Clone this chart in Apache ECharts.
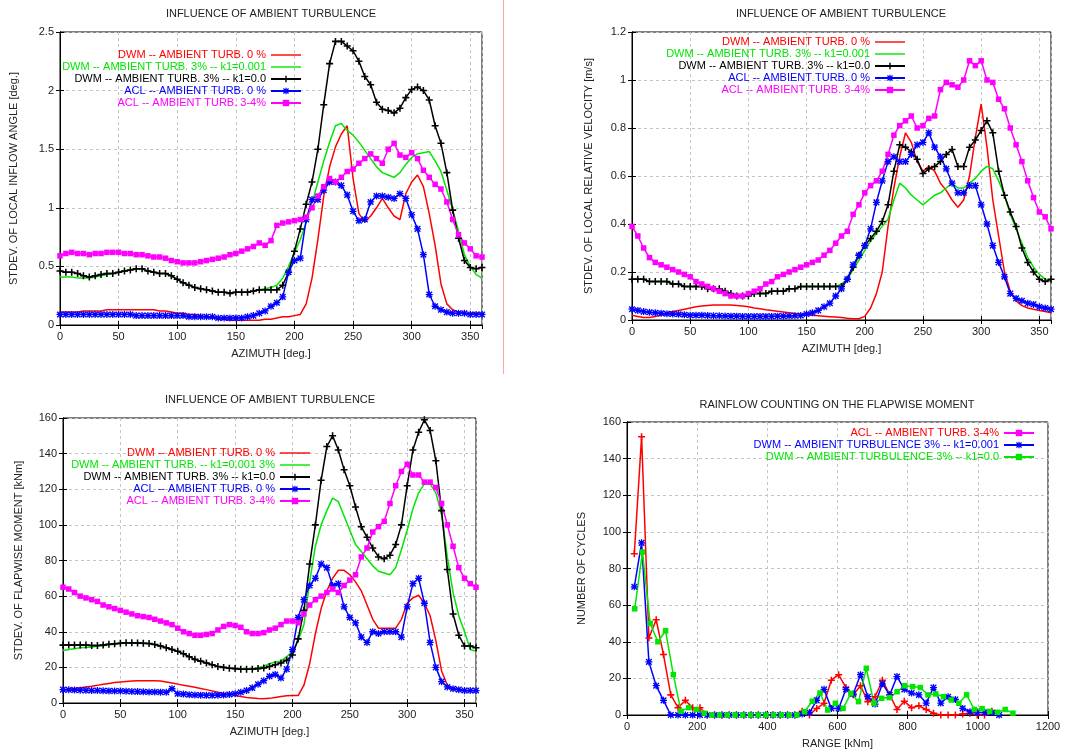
<!DOCTYPE html>
<html>
<head>
<meta charset="utf-8">
<script src="https://cdn.jsdelivr.net/npm/echarts/dist/echarts.min.js"></script>
<style>
html,body{margin:0;padding:0;background:#fff}
#chart{width:1086px;height:753px}
</style>
</head>
<body>
<div id="chart"></div>
<script>
// azimuth stations (deg), shared by the three azimuth plots
var azimuth = [0,5,10,15,20,25,30,35,40,45,50,55,60,65,70,75,80,85,90,95,100,105,110,115,120,125,130,135,140,145,
  150,155,160,165,170,175,180,185,190,195,200,205,210,215,220,225,230,235,240,245,250,255,260,265,270,275,280,285,290,295,
  300,305,310,315,320,325,330,335,340,345,350,355,360];

// stdev of local inflow angle [deg.]
var angDwm0 = [0.11,0.11,0.11,0.11,0.12,0.12,0.12,0.12,0.13,0.13,0.13,0.13,0.13,0.13,0.13,0.13,0.13,0.12,0.12,0.11,
  0.10,0.10,0.09,0.09,0.08,0.07,0.06,0.05,0.05,0.04,0.04,0.04,0.04,0.04,0.04,0.05,0.05,0.06,0.07,0.07,
  0.08,0.09,0.18,0.40,0.73,1.10,1.35,1.52,1.63,1.70,1.25,0.95,0.88,0.93,1.00,1.08,1.00,0.93,0.90,1.12,
  1.22,1.28,1.18,0.95,0.68,0.35,0.18,0.13,0.11,0.10,0.10,0.10,0.09];
var angDwm3k001 = [0.41,0.41,0.41,0.40,0.40,0.40,0.41,0.42,0.43,0.44,0.45,0.46,0.47,0.48,0.48,0.46,0.45,0.44,0.44,0.42,
  0.39,0.36,0.34,0.32,0.31,0.30,0.29,0.28,0.28,0.27,0.28,0.28,0.28,0.29,0.30,0.31,0.32,0.34,0.40,0.50,
  0.62,0.73,0.87,1.04,1.22,1.40,1.56,1.70,1.72,1.66,1.62,1.56,1.49,1.42,1.35,1.30,1.28,1.26,1.30,1.37,
  1.43,1.46,1.47,1.48,1.40,1.31,1.15,0.98,0.80,0.60,0.50,0.43,0.40];
var angDwm3k0 = [0.46,0.45,0.45,0.44,0.42,0.41,0.42,0.43,0.44,0.44,0.45,0.46,0.47,0.48,0.48,0.46,0.45,0.44,0.44,0.42,
  0.39,0.36,0.34,0.32,0.31,0.30,0.29,0.28,0.28,0.27,0.28,0.28,0.28,0.29,0.30,0.30,0.30,0.30,0.34,0.45,
  0.63,0.82,1.03,1.22,1.50,1.88,2.23,2.42,2.42,2.38,2.34,2.25,2.12,2.05,1.90,1.84,1.83,1.81,1.85,1.94,
  2.01,2.03,2.00,1.92,1.70,1.55,1.30,0.98,0.74,0.55,0.49,0.48,0.49];
var angAcl0 = [0.09,0.09,0.09,0.09,0.09,0.09,0.09,0.09,0.09,0.09,0.09,0.09,0.09,0.08,0.08,0.08,0.08,0.08,0.08,0.08,
  0.08,0.08,0.07,0.07,0.07,0.07,0.07,0.06,0.06,0.06,0.06,0.06,0.07,0.08,0.10,0.12,0.16,0.19,0.24,0.45,
  0.55,0.57,0.90,1.07,1.07,1.15,1.22,1.22,1.19,1.11,0.97,0.89,0.90,1.05,1.10,1.10,1.09,1.08,1.12,1.08,
  0.94,0.82,0.60,0.26,0.16,0.13,0.11,0.10,0.10,0.10,0.09,0.09,0.09];
var angAcl34 = [0.59,0.61,0.62,0.61,0.61,0.60,0.61,0.61,0.62,0.62,0.62,0.61,0.61,0.60,0.60,0.59,0.58,0.58,0.57,0.55,
  0.54,0.53,0.53,0.53,0.54,0.55,0.56,0.57,0.58,0.60,0.61,0.63,0.65,0.67,0.70,0.68,0.72,0.85,0.87,0.88,
  0.89,0.90,0.92,1.00,1.10,1.18,1.25,1.22,1.26,1.31,1.33,1.38,1.42,1.46,1.42,1.38,1.50,1.55,1.45,1.43,
  1.47,1.42,1.32,1.26,1.20,1.16,1.05,0.90,0.77,0.70,0.65,0.59,0.58];

// stdev of local relative velocity [m/s]
var velDwm0 = [0.02,0.015,0.01,0.01,0.015,0.02,0.03,0.035,0.04,0.045,0.05,0.055,0.058,0.06,0.062,0.063,0.063,0.062,0.06,0.058,
  0.055,0.05,0.047,0.043,0.04,0.036,0.033,0.03,0.027,0.024,0.022,0.02,0.018,0.016,0.014,0.012,0.01,0.007,0.005,0.005,
  0.015,0.05,0.11,0.20,0.39,0.55,0.68,0.78,0.74,0.66,0.62,0.64,0.62,0.57,0.54,0.50,0.47,0.50,0.60,0.76,
  0.90,0.72,0.50,0.35,0.20,0.12,0.08,0.06,0.05,0.045,0.04,0.035,0.03];
var velDwm3k001 = [0.17,0.17,0.17,0.16,0.16,0.16,0.16,0.15,0.15,0.14,0.14,0.14,0.14,0.13,0.13,0.13,0.12,0.11,0.10,0.10,
  0.10,0.11,0.11,0.11,0.12,0.12,0.12,0.13,0.13,0.14,0.14,0.14,0.14,0.14,0.14,0.14,0.15,0.17,0.21,0.25,
  0.29,0.33,0.36,0.39,0.42,0.50,0.57,0.55,0.52,0.50,0.48,0.50,0.52,0.53,0.55,0.57,0.55,0.55,0.57,0.59,
  0.62,0.64,0.63,0.58,0.52,0.44,0.38,0.32,0.26,0.22,0.19,0.17,0.16];
var velDwm3k0 = [0.17,0.17,0.17,0.16,0.16,0.16,0.16,0.15,0.15,0.14,0.14,0.14,0.14,0.13,0.13,0.13,0.12,0.11,0.10,0.10,
  0.10,0.11,0.11,0.11,0.12,0.12,0.12,0.13,0.13,0.14,0.14,0.14,0.14,0.14,0.14,0.14,0.14,0.17,0.22,0.27,
  0.31,0.34,0.37,0.41,0.48,0.62,0.73,0.72,0.70,0.67,0.61,0.63,0.64,0.66,0.69,0.71,0.64,0.64,0.72,0.75,
  0.79,0.83,0.78,0.62,0.52,0.45,0.39,0.30,0.24,0.20,0.17,0.16,0.17];
var velAcl0 = [0.045,0.04,0.035,0.032,0.03,0.028,0.026,0.025,0.024,0.022,0.02,0.02,0.02,0.019,0.018,0.018,0.017,0.016,0.016,0.015,
  0.015,0.015,0.015,0.015,0.015,0.016,0.016,0.017,0.018,0.019,0.025,0.03,0.04,0.055,0.07,0.10,0.13,0.17,0.23,0.27,
  0.31,0.38,0.49,0.58,0.66,0.68,0.66,0.66,0.69,0.73,0.74,0.78,0.72,0.68,0.63,0.57,0.53,0.53,0.56,0.56,
  0.48,0.40,0.31,0.24,0.18,0.11,0.09,0.08,0.07,0.065,0.055,0.05,0.045];
var velAcl34 = [0.39,0.35,0.30,0.26,0.24,0.23,0.22,0.21,0.20,0.19,0.18,0.16,0.15,0.14,0.13,0.12,0.11,0.10,0.10,0.10,
  0.11,0.12,0.13,0.15,0.16,0.18,0.19,0.20,0.21,0.22,0.23,0.24,0.25,0.27,0.29,0.32,0.35,0.37,0.44,0.48,
  0.53,0.56,0.58,0.62,0.69,0.77,0.81,0.83,0.85,0.80,0.81,0.84,0.85,0.96,0.99,0.98,0.97,1.00,1.08,1.06,
  1.08,1.00,0.99,0.92,0.88,0.80,0.73,0.66,0.58,0.51,0.45,0.43,0.38];

// stdev of flapwise moment [kNm]
var momDwm0 = [7.5,7.8,8.2,8.6,9.0,9.4,9.9,10.5,11.0,11.5,11.8,12.1,12.3,12.5,12.5,12.5,12.5,12.4,11.8,11.2,
  10.6,10.0,9.4,8.8,8.2,7.5,6.8,6.0,5.3,4.7,4.2,3.6,3.1,2.8,2.5,2.4,2.6,3.1,3.6,4.1,
  4.2,4.2,10,22,39,53,63,70,74.5,74.5,72,68,63,55,47,42,42,42,42,47,
  56,59,60.5,56,49,35,18,10,8,7.5,7,7,7];
var momDwm3k001 = [29.5,30,30.5,31,31.2,31.5,31.8,32.2,32.7,33,33.4,33.6,33.6,33.5,33.4,33.2,32.7,32,31,30,
  29,27.6,26,24.5,23.5,22.5,21.5,20.5,20,19.5,19.3,19,19,19.2,19.8,20.6,22,23,23.5,26,
  29,35,44,68,88,100,108,115,113,105,97,89,85,81,77,74,73,72,76,86,
  97,109,118,123,123,118,106,82,62,49,40,30,29];
var momDwm3k0 = [32.5,32.5,32.5,32.5,32.5,32.3,32.3,32.5,33,33.3,33.6,33.8,33.8,33.7,33.6,33.4,32.8,32,31,30,
  29,27.6,26,24.5,23.5,22.5,21.5,20.5,20,19.5,19.3,19,19,19,19.3,19.6,20.5,21.5,22.5,24,
  27,36,52,78,100,125,144,150,142,131,122,110,99,93,87,82,81,83,89,100,
  122,142,152,159,153,136,108,75,50,38,32,32,31];
var momAcl0 = [7.5,7.4,7.3,7.2,7.1,7,7,6.9,6.8,6.7,6.7,6.6,6.5,6.4,6.3,6.2,6.2,6.1,6,8,
  5.2,5,4.7,4.5,4.4,4.3,4.3,4.4,4.5,4.8,5.2,6,7,8.5,10.5,12.5,15,16,14,19,
  30,48,58,66,70,78,76,66,67,54,48,45,37,34,40,39,40,40,40,37,
  54,67,70,56,34,20,12,9,8,7.5,7,7,7];
var momAcl34 = [65,64,62,60,59,58,57,55,54,53,52,51,50,49,48.5,48,47,46,45,44,
  42,40,39,38,38,38.5,39,41,43,44,43.5,42.5,40,39,39,39.5,41,42,44,46,
  46,45,50,55,58,60,62,64,62,66,69,72,82,87,96,99,102,112,122,130,
  134,128,128,124,124,121,112,100,88,76,70,67,65];

// rainflow counting: range bins [kNm] and number of cycles
var rangeA = [20.8,41.6,62.4,83.2,104,124.8,145.6,166.4,187.2,208,228.8,249.6,270.4,291.2,312,332.8,353.6,374.4,395.2,416,
  436.8,457.6,478.4,499.2,520,540.8,561.6,582.4,603.2,624,644.8,665.6,686.4,707.2,728,748.8,769.6,790.4,811.2,832,
  852.8,873.6,894.4,915.2,936,956.8,977.6,998.4,1019.2,1040,1060.8];
var rangeB = [22,44,66,88,110,132,154,176,198,220,242,264,286,308,330,352,374,396,418,440,
  462,484,506,528,550,572,594,616,638,660,682,704,726,748,770,792,814,836,858,880,
  902,924,946,968,990,1012,1034,1056,1078,1100];
var cycAcl34 = [88,152,42,52,33,11,4,8,4,4,0,0,0,0,0,0,0,0,0,0,
  0,0,0,2,0,3.6,6.4,19,22,15,11,16,7.3,10,19,11,3,7.5,4,5,
  3,1,0,0,0,0.5,1,0,0,2];
var cycDwmK001 = [70,94,29,16,8,0,0,0,0,0,0,0,0,0,0,0,0,0,0,0,
  0,0,0,0.5,1.3,8,14,3.6,3.6,14,11.5,22,10,6,17,11,21,14,12,11,
  6.5,15,6.5,10,8.5,3.6,1.8,1.3,1.3,1.3,0];
var cycDwmK0 = [58,89,50,40,46,22,2,4,3,1,0,0,0,0,0,0,0,0,0,0,
  0,0,1.8,7.5,12,2.7,6.4,3.6,11.8,7.3,25.5,6.4,9.1,9.5,12.7,16,15.5,15,11,11.5,
  10,8.2,6.4,11,3,3.5,2,1.5,3,1];

var RED = '#ff0000', GREEN = '#00e600', BLACK = '#000000', BLUE = '#0000ff', MAGENTA = '#ff00ff';
var PLUS = 'path://M3.9,0H6.1V3.9H10V6.1H6.1V10H3.9V6.1H0V3.9H3.9Z';
var STAR = 'path://M4.1,0H5.9V10H4.1Z M0,4.1H10V5.9H0Z M0.3,1.7L1.7,0.3L9.7,8.3L8.3,9.7Z M8.3,0.3L9.7,1.7L1.7,9.7L0.3,8.3Z';
var BAR = 'path://M0,0H30V1.4H0Z';   // plain line sample for legend entries without points
var FONT = 'Liberation Sans, Arial, sans-serif';
var TXT = '#222';

function pairs(xs, ys){
  var out = [];
  for(var i=0;i<ys.length;i++) out.push([xs[i], ys[i]]);
  return out;
}

function line(name, g, xs, ys, color, sym, size){
  return {
    name: name, type: 'line', xAxisIndex: g, yAxisIndex: g,
    data: pairs(xs, ys),
    symbol: sym || 'none', showSymbol: !!sym, showAllSymbol: true, symbolSize: size || 0,
    lineStyle: {color: color, width: 1.5},
    itemStyle: {color: color},
    emphasis: {disabled: true},
    animation: false
  };
}

// plot boxes
var grids = [
  {left:60, right:604, top:32, bottom:428},
  {left:632, right:35, top:32, bottom:433},
  {left:63, right:610, top:418, bottom:50},
  {left:627, right:38, top:422, bottom:38}
];
var xCfg = [
  {min:0, max:360, interval:50, name:'AZIMUTH [deg.]'},
  {min:0, max:360, interval:50, name:'AZIMUTH [deg.]'},
  {min:0, max:360, interval:50, name:'AZIMUTH [deg.]'},
  {min:0, max:1200, interval:200, name:'RANGE [kNm]'}
];
var yCfg = [
  {min:0, max:2.5, interval:0.5, name:'STDEV. OF LOCAL INFLOW ANGLE [deg.]', gap:41},
  {min:0, max:1.2, interval:0.2, name:'STDEV. OF LOCAL RELATIVE VELOCITY [m/s]', gap:38},
  {min:0, max:160, interval:20, name:'STDEV. OF FLAPWISE MOMENT [kNm]', gap:39},
  {min:0, max:160, interval:20, name:'NUMBER OF CYCLES', gap:40}
];

function plain(v){ return String(Math.round(v * 1000) / 1000); }

var xAxes = [], yAxes = [];
var split = {show:true, lineStyle:{color:'#c4c4c4', type:[3,3], width:1}};
var axLine = {show:true, lineStyle:{color:'#000', width:1}};
xCfg.forEach(function(c, i){
  xAxes.push({type:'value', gridIndex:i, min:c.min, max:c.max, interval:c.interval,
    name:c.name, nameLocation:'middle', nameGap:23,
    nameTextStyle:{fontSize:11, color:TXT, fontFamily:FONT},
    axisLine:axLine, axisTick:{inside:true, length:4, lineStyle:{color:'#000'}},
    axisLabel:{fontSize:11, color:TXT, fontFamily:FONT, margin:6, formatter:plain, showMaxLabel: i < 3 ? false : true},
    splitLine:split});
});
xCfg.forEach(function(c, i){
  xAxes.push({type:'value', gridIndex:i, position:'top', min:c.min, max:c.max, interval:c.interval,
    axisLine:axLine, axisTick:{inside:true, length:4, lineStyle:{color:'#000'}},
    axisLabel:{show:false}, splitLine:{show:false}});
});
yCfg.forEach(function(c, i){
  yAxes.push({type:'value', gridIndex:i, min:c.min, max:c.max, interval:c.interval,
    name:c.name, nameLocation:'middle', nameGap:c.gap,
    nameTextStyle:{fontSize:11, color:TXT, fontFamily:FONT},
    axisLine:axLine, axisTick:{inside:true, length:4, lineStyle:{color:'#000'}},
    axisLabel:{fontSize:11, color:TXT, fontFamily:FONT, margin:6, formatter:plain},
    splitLine:split});
});
yCfg.forEach(function(c, i){
  yAxes.push({type:'value', gridIndex:i, position:'right', min:c.min, max:c.max, interval:c.interval,
    axisLine:axLine, axisTick:{inside:true, length:4, lineStyle:{color:'#000'}},
    axisLabel:{show:false}, splitLine:{show:false}});
});

var N1 = 'DWM -- AMBIENT TURB. 0 %';
var N2 = 'DWM -- AMBIENT TURB. 3% -- k1=0.001';
var N2b = 'DWM -- AMBIENT TURB. -- k1=0.001 3%';
var N3 = 'DWM -- AMBIENT TURB. 3% -- k1=0.0';
var N4 = 'ACL -- AMBIENT TURB. 0 %';
var N5 = 'ACL -- AMBIENT TURB. 3-4%';
var R1 = 'ACL -- AMBIENT TURB. 3-4%';
var R2 = 'DWM -- AMBIENT TURBULENCE 3% -- k1=0.001';
var R3 = 'DWM -- AMBIENT TURBULENCE 3% -- k1=0.0';

var series = [
  line(N1, 0, azimuth, angDwm0, RED),
  line(N2, 0, azimuth, angDwm3k001, GREEN),
  line(N3, 0, azimuth, angDwm3k0, BLACK, PLUS, 7),
  line(N4, 0, azimuth, angAcl0, BLUE, STAR, 7),
  line(N5, 0, azimuth, angAcl34, MAGENTA, 'rect', 5.5),

  line(N1, 1, azimuth, velDwm0, RED),
  line(N2, 1, azimuth, velDwm3k001, GREEN),
  line(N3, 1, azimuth, velDwm3k0, BLACK, PLUS, 7),
  line(N4, 1, azimuth, velAcl0, BLUE, STAR, 7),
  line(N5, 1, azimuth, velAcl34, MAGENTA, 'rect', 5.5),

  line(N1, 2, azimuth, momDwm0, RED),
  line(N2b, 2, azimuth, momDwm3k001, GREEN),
  line(N3, 2, azimuth, momDwm3k0, BLACK, PLUS, 7),
  line(N4, 2, azimuth, momAcl0, BLUE, STAR, 7),
  line(N5, 2, azimuth, momAcl34, MAGENTA, 'rect', 5.5),

  line(R1, 3, rangeA, cycAcl34, RED, PLUS, 7),
  line(R2, 3, rangeA, cycDwmK001, BLUE, STAR, 7),
  line(R3, 3, rangeB, cycDwmK0, GREEN, 'rect', 5.5)
];

function legend(names, colors, icons, right, top){
  return {
    orient:'vertical', align:'right', right:right, top:top, padding:0,
    itemWidth:30, itemHeight:8, itemGap:0, selectedMode:false, symbolKeepAspect:true,
    textStyle:{fontSize:11, lineHeight:12, fontFamily:FONT},
    data: names.map(function(n, i){
      var d = {name:n, textStyle:{color:colors[i]}};
      if(icons[i]) d.icon = icons[i];
      return d;
    })
  };
}
var c5 = [RED, GREEN, BLACK, BLUE, MAGENTA];
var i5 = [BAR, BAR, null, null, null];

function title(text, x, y){
  return {text:text, left:x, top:y, textAlign:'center', padding:0,
    textStyle:{fontSize:11, fontWeight:'normal', color:TXT, fontFamily:FONT}};
}

var chart = echarts.init(document.getElementById('chart'), null, {renderer:'canvas'});
chart.setOption({
  backgroundColor:'#fff',
  animation:false,
  textStyle:{fontFamily:FONT},
  title:[
    title('INFLUENCE OF AMBIENT TURBULENCE', 271, 8),
    title('INFLUENCE OF AMBIENT TURBULENCE', 841, 8),
    title('INFLUENCE OF AMBIENT TURBULENCE', 270, 394),
    title('RAINFLOW COUNTING ON THE FLAPWISE MOMENT', 837, 399)
  ],
  legend:[
    legend([N1, N2, N3, N4, N5], c5, i5, 784, 49),
    legend([N1, N2, N3, N4, N5], c5, i5, 180, 36),
    legend([N1, N2b, N3, N4, N5], c5, i5, 775, 447),
    legend([R1, R2, R3], [RED, BLUE, GREEN], [null, null, null], 51, 427)
  ],
  grid: grids.map(function(g){
    return {left:g.left, right:g.right, top:g.top, bottom:g.bottom, show:true, borderColor:'#000', borderWidth:1, backgroundColor:'#fff'};
  }),
  xAxis: xAxes,
  yAxis: yAxes,
  graphic:[{type:'line', shape:{x1:503.5, y1:0, x2:503.5, y2:374}, style:{stroke:'#f4aaaa', lineWidth:1}, silent:true}],
  series: series
});
</script>
</body>
</html>
